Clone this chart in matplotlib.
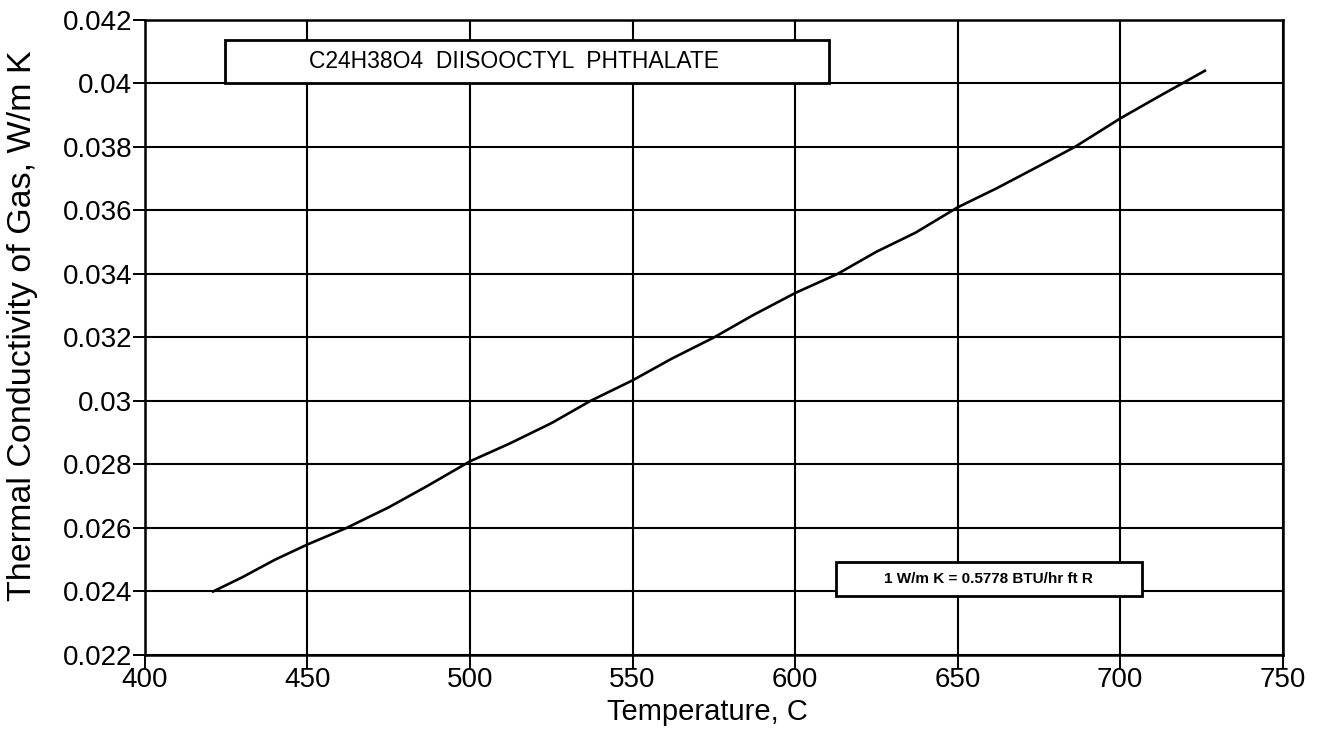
import matplotlib
matplotlib.use("Agg")
import matplotlib.pyplot as plt
from matplotlib.patches import Rectangle

# 数据
temperature = [421, 430, 440, 450, 462, 475, 487, 500, 512, 525, 537, 550, 562,
               575, 587, 600, 613, 625, 637, 650, 662, 675, 686, 700, 712, 726]
conductivity = [0.0240, 0.02445, 0.0250, 0.02548, 0.0260, 0.02665, 0.02733,
                0.0281, 0.02865, 0.0293, 0.0300, 0.03065, 0.03133, 0.0320,
                0.0327, 0.0334, 0.0340, 0.0347, 0.0353, 0.0361, 0.0367,
                0.0374, 0.0380, 0.0389, 0.0396, 0.0404]
x_ticks = [400, 450, 500, 550, 600, 650, 700, 750]
y_ticks = [0.022, 0.024, 0.026, 0.028, 0.03, 0.032, 0.034, 0.036, 0.038, 0.04, 0.042]
y_tick_labels = ["0.022", "0.024", "0.026", "0.028", "0.03", "0.032",
                 "0.034", "0.036", "0.038", "0.04", "0.042"]
title_text = "C24H38O4  DIISOOCTYL  PHTHALATE"
note_text = "1 W/m K = 0.5778 BTU/hr ft R"

plt.rcParams["font.family"] = ["Liberation Sans", "DejaVu Sans"]

fig = plt.figure(figsize=(13.29, 7.37), dpi=100)
ax = fig.add_axes([0.109, 0.1113, 0.8563, 0.8616])

ax.plot(temperature, conductivity, color="black", linewidth=1.9, zorder=3)

ax.set_xlim(400, 750)
ax.set_ylim(0.022, 0.042)
ax.set_xticks(x_ticks)
ax.set_yticks(y_ticks)
ax.set_yticklabels(y_tick_labels)
ax.grid(True, color="black", linewidth=1.5)
ax.set_axisbelow(True)
for spine in ax.spines.values():
    spine.set_linewidth(1.8)
ax.tick_params(direction="out", length=9, width=1.4, labelsize=20, pad=0)

ax.set_xlabel("Temperature, C", fontsize=21)
ax.set_ylabel("Thermal Conductivity of Gas, W/m K", fontsize=24.5)
ax.xaxis.set_label_coords(0.494, -0.068)
ax.yaxis.set_label_coords(-0.094, 0.518)

# 标题框
ax.add_patch(Rectangle((0.0703, 0.9008), 0.531, 0.0677, transform=ax.transAxes,
                       facecolor="white", edgecolor="black", linewidth=2.0, zorder=4))
ax.text(0.324, 0.9008 + 0.0677 / 2, title_text, transform=ax.transAxes,
        ha="center", va="center", fontsize=16.5, zorder=5)

# 单位换算框
ax.add_patch(Rectangle((0.607, 0.0929), 0.269, 0.0535, transform=ax.transAxes,
                       facecolor="white", edgecolor="black", linewidth=2.0, zorder=4))
ax.text(0.607 + 0.269 / 2, 0.0929 + 0.0535 / 2, note_text, transform=ax.transAxes,
        ha="center", va="center", fontsize=11, fontweight="bold", zorder=5)

fig.savefig("out.png", dpi=100)
plt.close(fig)
